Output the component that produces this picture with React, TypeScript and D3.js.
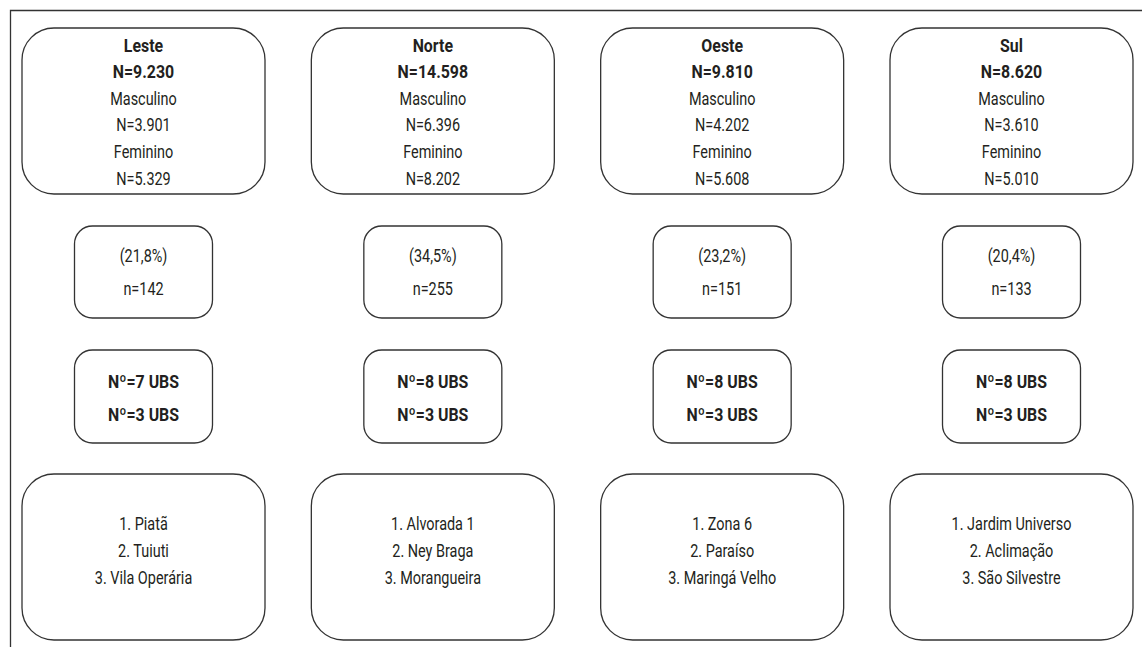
import { useEffect, useRef } from 'react'
import * as d3 from 'd3'

// regions and their figures
const regions = ['Leste', 'Norte', 'Oeste', 'Sul']
const totalN = ['9.230', '14.598', '9.810', '8.620']
const maleN = ['3.901', '6.396', '4.202', '3.610']
const femaleN = ['5.329', '8.202', '5.608', '5.010']
const samplePct = ['21,8%', '34,5%', '23,2%', '20,4%']
const sampleN = [142, 255, 151, 133]
const ubsFirst = [7, 8, 8, 8]
const ubsSecond = [3, 3, 3, 3]
const neighbourhoods = [
    ['Piatã', 'Tuiuti', 'Vila Operária'],
    ['Alvorada 1', 'Ney Braga', 'Morangueira'],
    ['Zona 6', 'Paraíso', 'Maringá Velho'],
    ['Jardim Universo', 'Aclimação', 'São Silvestre'],
]

const FONT = "Roboto, 'DejaVu Sans Condensed', sans-serif"

const App: React.FC = () => {
    const ref = useRef<HTMLDivElement>(null)

    useEffect(() => {
        document.body.style.margin = '0'
        const width = 1142
        const height = 647

        const x = d3.scalePoint<string>().domain(regions).range([143.5, 1011.5])

        const svg = d3
            .create('svg')
            .attr('width', width)
            .attr('height', height)
            .attr('viewBox', [0, 0, width, height])
            .attr('style', `display:block; background:#fff; font-family:${FONT};`)

        // outer frame: top and left rule only
        svg.append('path')
            .attr('d', `M10.5,${height} V10.5 H${width}`)
            .attr('fill', 'none')
            .attr('stroke', '#333')
            .attr('stroke-width', 1.3)

        const rows = [
            { top: 28, h: 166, w: 243, r: 32 },
            { top: 226, h: 92, w: 138, r: 18 },
            { top: 350, h: 93, w: 138, r: 18 },
            { top: 474, h: 166, w: 243, r: 32 },
        ]

        const texts = regions.map((reg, i) => [
            [
                { t: reg, bold: true },
                { t: `N=${totalN[i]}`, bold: true },
                { t: 'Masculino', bold: false },
                { t: `N=${maleN[i]}`, bold: false },
                { t: 'Feminino', bold: false },
                { t: `N=${femaleN[i]}`, bold: false },
            ],
            [
                { t: `(${samplePct[i]})`, bold: false },
                { t: `n=${sampleN[i]}`, bold: false },
            ],
            [
                { t: `Nº=${ubsFirst[i]} UBS`, bold: true },
                { t: `Nº=${ubsSecond[i]} UBS`, bold: true },
            ],
            neighbourhoods[i].map((n, k) => ({ t: `${k + 1}. ${n}`, bold: false })),
        ])

        // first-line centres and line step per row
        const firstLine = [45, 255, 381, 523]
        const steps = [26.6, 33, 33, 27]

        regions.forEach((reg, i) => {
            const cx = x(reg) as number
            rows.forEach((row, j) => {
                const g = svg.append('g')
                g.append('rect')
                    .attr('x', cx - row.w / 2)
                    .attr('y', row.top)
                    .attr('width', row.w)
                    .attr('height', row.h)
                    .attr('rx', row.r)
                    .attr('ry', row.r)
                    .attr('fill', '#fff')
                    .attr('stroke', '#333')
                    .attr('stroke-width', 1.3)

                // condensed look: squeeze the glyphs horizontally
                g.selectAll('text')
                    .data(texts[i][j])
                    .join('text')
                    .attr('transform', (d, k) =>
                        `translate(${cx},${firstLine[j] + k * steps[j]}) scale(${d.bold ? 0.86 : 0.78},1)`)
                    .attr('dy', '0.36em')
                    .attr('text-anchor', 'middle')
                    .attr('font-size', 18.5)
                    .attr('font-weight', (d) => (d.bold ? 'bold' : 'normal'))
                    .attr('fill', '#231f20')
                    .text((d) => d.t)
            })
        })

        ref.current?.replaceChildren(svg.node() as Node)
    }, [])

    return <div ref={ref} />
}

export default App
